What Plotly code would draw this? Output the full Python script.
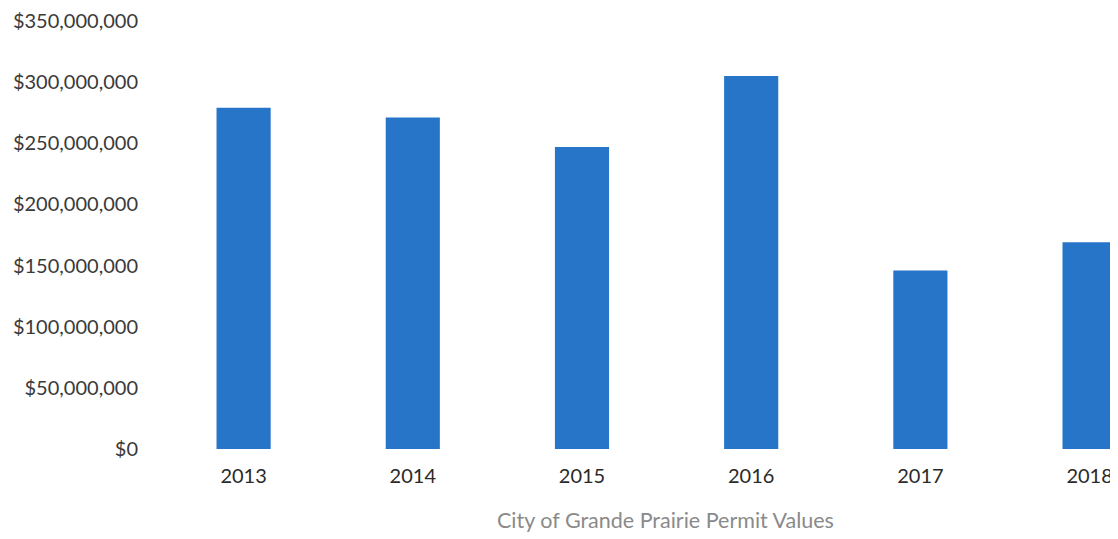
import plotly.graph_objects as go

years = ["2013", "2014", "2015", "2016", "2017", "2018"]
permit_values = [279_000_000, 271_000_000, 247_000_000, 305_000_000, 146_000_000, 169_000_000]
y_ticks = [0, 50_000_000, 100_000_000, 150_000_000, 200_000_000, 250_000_000, 300_000_000, 350_000_000]
y_tick_labels = ["$0", "$50,000,000", "$100,000,000", "$150,000,000", "$200,000,000",
                 "$250,000,000", "$300,000,000", "$350,000,000"]
x_title = "City of Grande Prairie Permit Values"

# page has an 8px body margin; figure is sized to fit the 1118x539 window
W, H = 1110, 531
L, T, B = 151, 11, 90

fig = go.Figure(go.Bar(
    x=years, y=permit_values,
    marker=dict(color="#2675c9", line=dict(width=0)),
    width=0.32,
))

fig.update_layout(
    width=W, height=H,
    margin=dict(l=L, r=0, t=T, b=B, pad=0),
    paper_bgcolor="white", plot_bgcolor="white",
    font=dict(family="Lato, 'Open Sans', sans-serif", size=20, color="#333333"),
    showlegend=False,
    xaxis=dict(
        type="category",
        range=[-0.5, 5.168],
        showgrid=False, showline=False, zeroline=False,
        ticks="", ticklabelstandoff=13,
        tickfont=dict(size=20, color="#2a2a2a"),
    ),
    yaxis=dict(
        range=[0, 350_000_000],
        tickvals=y_ticks, ticktext=y_tick_labels,
        showgrid=False, showline=False, zeroline=False,
        ticks="", ticklabelstandoff=20, ticklabeloverflow="allow",
        tickfont=dict(size=20, color="#3a3a3a"),
    ),
    annotations=[dict(
        text=x_title,
        x=(665 - 159) / (1118 - 159), y=-(520 - 449) / (449 - 19),
        xref="paper", yref="paper", xanchor="center", yanchor="middle",
        showarrow=False, font=dict(size=21.5, color="#8a8a8a"),
    )],
)

fig.write_html("out.html")
